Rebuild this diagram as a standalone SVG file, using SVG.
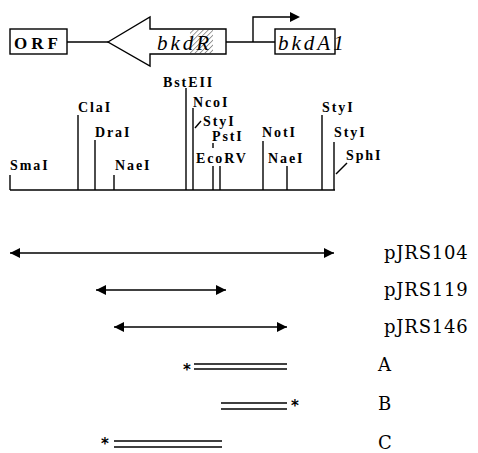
<svg xmlns="http://www.w3.org/2000/svg" width="478" height="453" viewBox="0 0 478 453">
<style>
.ln{stroke:#000;stroke-width:1.4;fill:none}
.box{stroke:#000;stroke-width:1.4;fill:#fff}
.re{font-family:"Liberation Serif",serif;font-weight:bold;font-size:14px;letter-spacing:1.9px;fill:#000}
.gene{font-family:"Liberation Serif",serif;font-style:italic;font-size:21px;letter-spacing:3px;fill:#000}
.orf{font-family:"Liberation Serif",serif;font-weight:bold;font-size:17px;letter-spacing:4px;fill:#000}
.lab{font-family:"DejaVu Serif",serif;font-size:18px;letter-spacing:0.8px;fill:#000}
.ast{font-family:"DejaVu Sans",sans-serif;font-weight:bold;font-size:15px;fill:#000}
.dbl{stroke:#000;stroke-width:1.4}
</style>
<defs>
<pattern id="hatch" width="3.5" height="3.5" patternUnits="userSpaceOnUse" patternTransform="rotate(45)">
<line x1="0" y1="0" x2="0" y2="3.5" stroke="#222" stroke-width="0.9"/>
</pattern>
<marker id="ah" viewBox="0 0 10 10" refX="10" refY="5" markerWidth="10" markerHeight="10" markerUnits="userSpaceOnUse" orient="auto-start-reverse">
<path d="M0,0 L10,5 L0,10 Z" fill="#000"/>
</marker>
</defs>

<g id="connectors">
<line class="ln" x1="67" y1="42" x2="108" y2="42"/>
<line class="ln" x1="226" y1="42" x2="275" y2="42"/>
<polyline class="ln" points="253,42 253,17 291,17"/>
<path d="M290,12 L300,17 L290,22 Z" fill="#000"/>
</g>

<g id="orf">
<rect class="box" x="10" y="29" width="57" height="25"/>
<text class="orf" x="14" y="49">ORF</text>
</g>

<g id="bkdR">
<polygon class="box" points="108,42 150,17 150,29 226,29 226,54 150,54 150,66"/>
<rect x="190" y="29.7" width="23" height="23.6" fill="url(#hatch)"/>
<text class="gene" x="157" y="50">bkdR</text>
</g>

<g id="bkdA1">
<rect class="box" x="275" y="29" width="60" height="25"/>
<text class="gene" x="278" y="50" letter-spacing="1.5">bkdA1</text>
</g>

<g id="restriction-map">
<line class="ln" x1="10" y1="190" x2="335" y2="190" stroke-width="1.6"/>
<line class="ln" x1="10" y1="175" x2="10" y2="190"/>
<line class="ln" x1="78" y1="115" x2="78" y2="190"/>
<line class="ln" x1="95" y1="140" x2="95" y2="190"/>
<line class="ln" x1="114" y1="175" x2="114" y2="190"/>
<line class="ln" x1="186" y1="88" x2="186" y2="190"/>
<line class="ln" x1="193" y1="108" x2="193" y2="190"/>
<line class="ln" x1="195" y1="128" x2="201" y2="121"/>
<line class="ln" x1="213" y1="143" x2="213" y2="148"/>
<line class="ln" x1="213" y1="166" x2="213" y2="190"/>
<line class="ln" x1="220" y1="166" x2="220" y2="190"/>
<line class="ln" x1="263" y1="141" x2="263" y2="190"/>
<line class="ln" x1="287" y1="166" x2="287" y2="190"/>
<line class="ln" x1="322" y1="115" x2="322" y2="190"/>
<line class="ln" x1="334" y1="142" x2="334" y2="190"/>
<line class="ln" x1="336" y1="174" x2="347" y2="163"/>
<text class="re" x="10" y="170">SmaI</text>
<text class="re" x="78" y="112">ClaI</text>
<text class="re" x="95" y="137">DraI</text>
<text class="re" x="115" y="170">NaeI</text>
<text class="re" x="163" y="87">BstEII</text>
<text class="re" x="193" y="107">NcoI</text>
<text class="re" x="203" y="126">StyI</text>
<text class="re" x="212" y="141">PstI</text>
<text class="re" x="196" y="163" letter-spacing="2.3">EcoRV</text>
<text class="re" x="262" y="137">NotI</text>
<text class="re" x="268" y="163">NaeI</text>
<text class="re" x="322" y="112">StyI</text>
<text class="re" x="334" y="137">StyI</text>
<text class="re" x="346" y="160">SphI</text>
</g>

<g id="pJRS104">
<line class="ln" x1="10" y1="253" x2="334" y2="253" marker-start="url(#ah)" marker-end="url(#ah)" stroke-width="1.5"/>
<text class="lab" x="384" y="259">pJRS104</text>
</g>
<g id="pJRS119">
<line class="ln" x1="96" y1="290" x2="226" y2="290" marker-start="url(#ah)" marker-end="url(#ah)" stroke-width="1.5"/>
<text class="lab" x="384" y="296">pJRS119</text>
</g>
<g id="pJRS146">
<line class="ln" x1="114" y1="327" x2="287" y2="327" marker-start="url(#ah)" marker-end="url(#ah)" stroke-width="1.5"/>
<text class="lab" x="384" y="333">pJRS146</text>
</g>

<g id="A">
<line class="dbl" x1="194" y1="364" x2="287" y2="364"/>
<line class="dbl" x1="194" y1="369" x2="287" y2="369"/>
<text class="ast" x="187" y="375" text-anchor="middle">*</text>
<text class="lab" x="378" y="371">A</text>
</g>
<g id="B">
<line class="dbl" x1="221" y1="403" x2="287" y2="403"/>
<line class="dbl" x1="221" y1="409" x2="287" y2="409"/>
<text class="ast" x="295" y="411" text-anchor="middle">*</text>
<text class="lab" x="378" y="410">B</text>
</g>
<g id="C">
<line class="dbl" x1="114" y1="441" x2="222" y2="441"/>
<line class="dbl" x1="114" y1="447" x2="222" y2="447"/>
<text class="ast" x="105" y="449.3" text-anchor="middle">*</text>
<text class="lab" x="378" y="449">C</text>
</g>
</svg>
